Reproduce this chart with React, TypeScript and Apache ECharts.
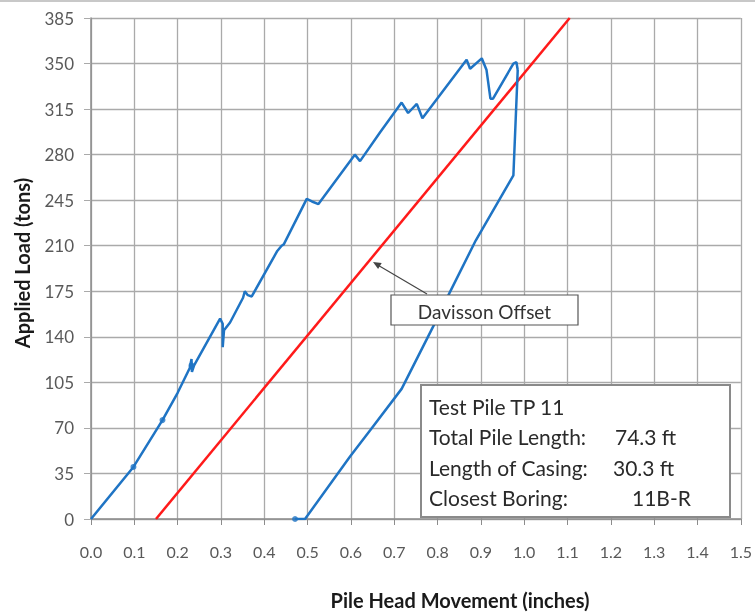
import React, { useEffect, useRef } from "react";
import * as echarts from "echarts";

const xTicks = [0, 1.5, 0.1];
const yTicks = [0, 385, 35];

const loadCurve: [number, number][] = [
  [0, 0], [0.098, 40], [0.165, 76], [0.2, 97], [0.228, 116], [0.232, 123], [0.233, 113], [0.238, 118],
  [0.298, 154], [0.304, 150], [0.304, 132], [0.307, 145], [0.321, 151], [0.351, 170], [0.355, 175],
  [0.362, 172], [0.371, 171], [0.43, 206], [0.44, 210], [0.445, 211], [0.498, 246], [0.51, 244],
  [0.525, 242], [0.609, 280], [0.621, 275], [0.667, 297], [0.717, 320], [0.732, 312], [0.752, 319],
  [0.765, 308], [0.867, 353], [0.875, 346], [0.902, 354], [0.913, 345], [0.922, 323], [0.928, 323],
  [0.975, 350], [0.982, 351], [0.985, 345],
];
const unloadCurve: [number, number][] = [
  [0.985, 345], [0.975, 264], [0.888, 214], [0.825, 172], [0.79, 148], [0.717, 100], [0.644, 68],
  [0.598, 48], [0.494, 0], [0.471, 0],
];
const markerPoints: [number, number][] = [[0.098, 40], [0.165, 76], [0.471, 0], [0.232, 118]];
const davisson: [number, number][] = [[0.15, 0], [1.105, 385]];

const infoLabels = ["Test Pile TP 11", "Total Pile Length:", "Length of Casing:", "Closest Boring:"];
const infoValues = ["", "74.3 ft", "30.3 ft", "11B-R"];

export default function App() {
  const ref = useRef<HTMLDivElement>(null);
  useEffect(() => {
    if (!ref.current) return;
    const chart = echarts.init(ref.current, undefined, { renderer: "svg" });
    const font = "Lato, 'Open Sans', sans-serif";
    const valueX = [0, 615, 613, 632];
    const Z = 100;
    const graphic: any[] = [
      { type: "line", z: Z, shape: { x1: 0, y1: 1, x2: 755, y2: 1 }, style: { stroke: "#c8c8c8", lineWidth: 2 } },
      { type: "line", z: Z, shape: { x1: 427, y1: 294, x2: 376, y2: 264 }, style: { stroke: "#444", lineWidth: 1.2 } },
      { type: "polygon", z: Z, shape: { points: [[373, 262], [381.7, 263.1], [378.1, 269.1]] }, style: { fill: "#444" } },
      { type: "rect", z: Z, shape: { x: 391, y: 295, width: 187, height: 30 }, style: { fill: "#fff", stroke: "#555", lineWidth: 1.2 } },
      { type: "text", z: Z + 1, x: 484.5, y: 311, style: { text: "Davisson Offset", font: `19px ${font}`, fill: "#333", align: "center", verticalAlign: "middle" } },
      { type: "rect", z: Z, shape: { x: 421, y: 385, width: 309, height: 132 }, style: { fill: "#fff", stroke: "#8a8a8a", lineWidth: 2 } },
      { type: "text", z: Z, x: 460, y: 600, style: { text: "Pile Head Movement (inches)", font: `bold 20px ${font}`, fill: "#1a1a1a", align: "center", verticalAlign: "middle" } },
      { type: "text", z: Z, x: 22, y: 263, rotation: Math.PI / 2, style: { text: "Applied Load (tons)", font: `bold 20px ${font}`, fill: "#1a1a1a", align: "center", verticalAlign: "middle" } },
    ];
    infoLabels.forEach((t, i) => {
      graphic.push({ type: "text", z: Z + 1, x: 429, y: 406 + i * 30.5, style: { text: t, font: `21px ${font}`, fill: "#2a2a2a", verticalAlign: "middle" } });
      if (infoValues[i]) graphic.push({ type: "text", z: Z + 1, x: valueX[i], y: 406 + i * 30.5, style: { text: infoValues[i], font: `21px ${font}`, fill: "#2a2a2a", verticalAlign: "middle" } });
    });
    chart.setOption({
      animation: false,
      grid: { left: 91, top: 18, right: 14, bottom: 94 },
      xAxis: {
        type: "value", min: xTicks[0], max: xTicks[1], interval: xTicks[2],
        axisLine: { show: true, onZero: false, lineStyle: { color: "#8c8c8c", width: 1.5 } },
        axisTick: { show: true, length: 6, lineStyle: { color: "#8c8c8c" } },
        axisLabel: { formatter: (v: number) => v.toFixed(1), color: "#595959", fontSize: 16, fontFamily: font, margin: 24 },
        splitLine: { show: true, lineStyle: { color: "#aaaaaa", width: 1.3 } },
      },
      yAxis: {
        type: "value", min: yTicks[0], max: yTicks[1], interval: yTicks[2],
        axisLine: { show: true, lineStyle: { color: "#8c8c8c", width: 1.5 } },
        axisTick: { show: true, length: 7, lineStyle: { color: "#aaaaaa" } },
        axisLabel: { color: "#595959", fontSize: 17, fontFamily: font, margin: 17 },
        splitLine: { show: true, lineStyle: { color: "#aaaaaa", width: 1.3 } },
      },
      series: [
        { type: "line", data: davisson, showSymbol: false, lineStyle: { color: "#ff1a1a", width: 2.5 }, z: 3 },
        { type: "line", data: loadCurve, showSymbol: false, lineStyle: { color: "#1f74c4", width: 2.5 }, z: 4 },
        { type: "line", data: unloadCurve, showSymbol: false, lineStyle: { color: "#1f74c4", width: 2.5 }, z: 4 },
        { type: "scatter", data: markerPoints, symbolSize: 6, itemStyle: { color: "#1f74c4" }, z: 5 },
      ],
      graphic,
    });
    return () => chart.dispose();
  }, []);
  return <div ref={ref} style={{ position: "fixed", left: 0, top: 0, width: 755, height: 613 }} />;
}
